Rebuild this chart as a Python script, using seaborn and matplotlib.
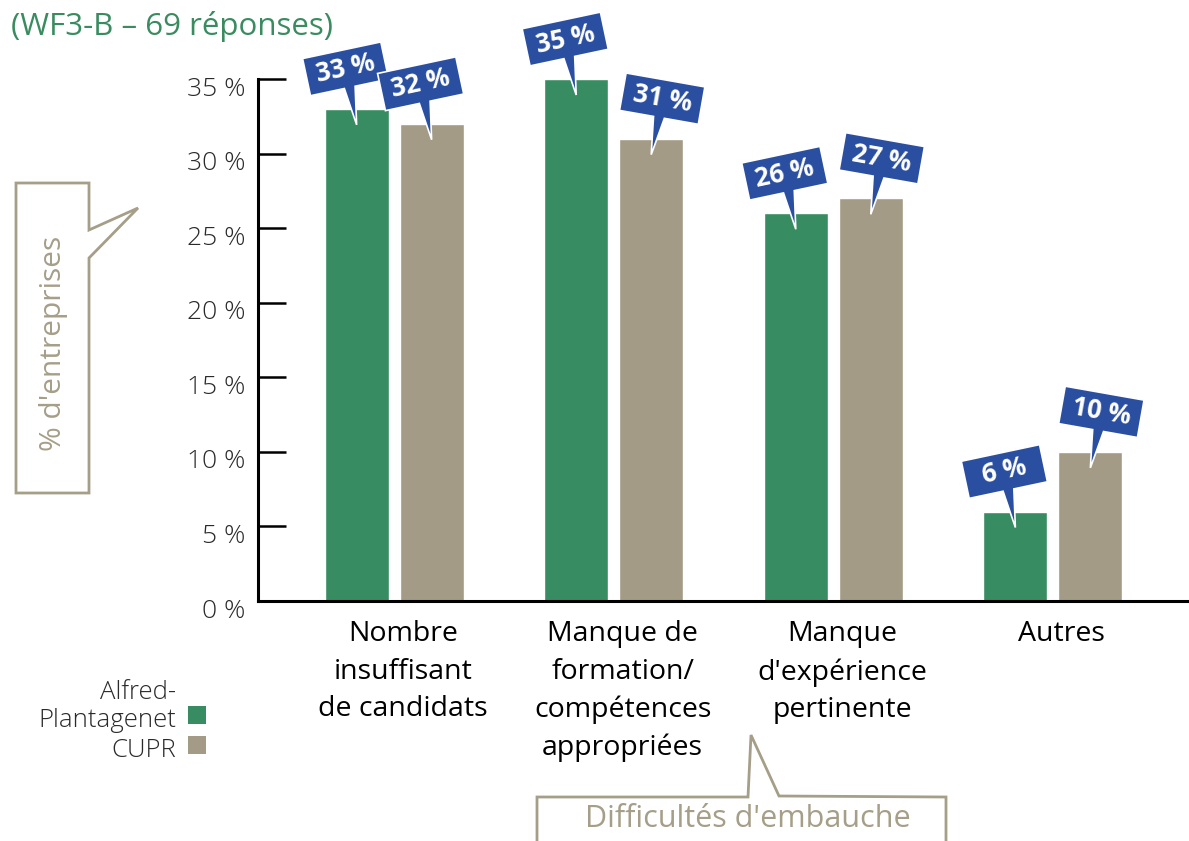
import numpy as np
import pandas as pd
import matplotlib
matplotlib.use("Agg")
import matplotlib.pyplot as plt
import matplotlib.transforms as mtransforms
from matplotlib.patches import Polygon, Rectangle
import seaborn as sns

# ---------------- data ----------------
categories = [
    "Nombre\ninsuffisant\nde candidats",
    "Manque de\nformation/\ncompétences\nappropriées",
    "Manque\nd'expérience\npertinente",
    "Autres",
]
series_names = ["Alfred-\nPlantagenet", "CUPR"]
alfred_values = [33, 35, 26, 6]
cupr_values = [32, 31, 27, 10]
y_ticks = [0, 5, 10, 15, 20, 25, 30, 35]
title_text = "(WF3-B – 69 réponses)"
y_label = "% d'entreprises"
x_label = "Difficultés d'embauche"

# ---------------- style ----------------
GREEN = "#388C62"
GRAY = "#A39B85"
BLUE = "#2B4FA0"
TAN = "#A59E88"
TITLE_GREEN = "#3A8C60"
TEXT_DARK = "#2A2A2A"
palette = [GREEN, GRAY]
callout_tilts = [[12, 12, 12, 12], [12, -10, -10, -10]]

sns.set_theme(style="white")
plt.rcParams["font.family"] = ["Open Sans", "DejaVu Sans"]

W, H, DPI = 1189, 841, 100
fig = plt.figure(figsize=(W / DPI, H / DPI), dpi=DPI)
fig.patch.set_facecolor("white")
ax = fig.add_axes([258 / W, 1 - 601 / H, (W - 258) / W, 522 / H])

df = pd.DataFrame({
    "cat": categories * 2,
    "val": alfred_values + cupr_values,
    "series": [series_names[0]] * len(categories) + [series_names[1]] * len(categories),
})
sns.barplot(data=df, x="cat", y="val", hue="series", order=categories,
            hue_order=series_names, palette=palette, saturation=1,
            width=0.683, gap=0.147, errorbar=None, legend=False, ax=ax)

ax.set_xlim(-0.62, 3.62)
ax.set_ylim(0, 35)
ax.set_yticks(y_ticks)
ax.set_yticklabels([f"{v} %" for v in y_ticks])
ax.set_xlabel("")
ax.set_ylabel("")
sns.despine(ax=ax, top=True, right=True)
for s in ["left", "bottom"]:
    ax.spines[s].set_color("black")
    ax.spines[s].set_linewidth(2.2)
ax.tick_params(axis="y", direction="in", length=20, width=1.8, color="black",
               pad=9, labelsize=19, labelcolor=TEXT_DARK, left=True)
ax.tick_params(axis="x", length=0, pad=14, labelsize=20.5, labelcolor="black")

ylab_off = mtransforms.ScaledTranslation(0, -7 / DPI, fig.dpi_scale_trans)
for lab in ax.get_yticklabels():
    lab.set_fontweight("light")
    lab.set_transform(lab.get_transform() + ylab_off)
xlab_off = mtransforms.ScaledTranslation(9 / DPI, 0, fig.dpi_scale_trans)
for lab in ax.get_xticklabels():
    lab.set_linespacing(1.45)
    lab.set_transform(lab.get_transform() + xlab_off)

# ---------------- value callouts ----------------
def callout_vertices(tilt, dx, dy):
    th = np.deg2rad(tilt)
    c, s = np.cos(th), np.sin(th)
    R = np.array([[c, -s], [s, c]])
    hw, hh = 40, 19
    center = np.array([dx, dy])
    tip = np.array([0.0, -16.0])
    tip_local = R.T @ (tip - center)
    bx = float(np.clip(tip_local[0] * 0.4, -25, 25))
    local = [(-hw, hh), (hw, hh), (hw, -hh), (bx + 6, -hh),
             tuple(tip_local), (bx - 5, -hh), (-hw, -hh)]
    return [R @ np.array(p) + center for p in local]

values_by_series = [alfred_values, cupr_values]
for container, vals, tilts in zip(ax.containers, values_by_series, callout_tilts):
    for bar, val, tilt in zip(container, vals, tilts):
        x = bar.get_x() + bar.get_width() / 2
        y = bar.get_height()
        dx = -11 if tilt > 0 else 11
        dy = 40
        trans = mtransforms.Affine2D() + mtransforms.ScaledTranslation(x, y, ax.transData)
        poly = Polygon(callout_vertices(tilt, dx, dy), closed=True, transform=trans,
                       facecolor=BLUE, edgecolor="white", linewidth=1.2,
                       clip_on=False, zorder=5)
        ax.add_patch(poly)
        ax.annotate(f"{val} %", xy=(x, y), xytext=(dx * 0.72, dy * 0.72),
                    textcoords="offset points", ha="center", va="center",
                    rotation=tilt, rotation_mode="anchor", color="white",
                    fontsize=18.5, fontweight="bold", zorder=6, annotation_clip=False)

ax.set_xlim(-0.62, 3.62)
ax.set_ylim(0, 35)

# ---------------- title ----------------
def img2fig(x, y):
    return (x / W, 1 - y / H)

fig.text(*img2fig(11, 26), title_text, color=TITLE_GREEN, fontsize=22.5,
         ha="left", va="center")

# ---------------- y-label callout ----------------
ypts = [(16, 183), (89, 183), (89, 230), (138, 208), (89, 258), (89, 493), (16, 493)]
fig.add_artist(Polygon([img2fig(*p) for p in ypts], closed=True, transform=fig.transFigure,
                       facecolor="white", edgecolor=TAN, linewidth=2))
fig.text(*img2fig(53, 343), y_label, rotation=90, color=TAN, fontsize=21.5,
         ha="center", va="center")

# ---------------- x-label callout ----------------
xpts = [(537, 870), (537, 797), (748, 797), (751, 735), (779, 796), (946, 797), (946, 870)]
fig.add_artist(Polygon([img2fig(*p) for p in xpts], closed=False, transform=fig.transFigure,
                       facecolor="white", edgecolor=TAN, linewidth=2))
fig.text(*img2fig(748, 819), x_label, color=TAN, fontsize=22, ha="center", va="center")

# ---------------- legend (keys to the right of right-aligned labels) ----------------
legend_rows = [715, 745]
for name, color, yc in zip(series_names, palette, legend_rows):
    fig.text(*img2fig(176, yc + 12), name, color=TEXT_DARK, fontsize=18.5,
             fontweight="light", ha="right", va="baseline", multialignment="right",
             linespacing=1.15)
    fig.add_artist(Rectangle(img2fig(188, yc + 9), 18 / W, 18 / H,
                             transform=fig.transFigure, facecolor=color, edgecolor="none"))

fig.savefig("out.png", dpi=DPI)
